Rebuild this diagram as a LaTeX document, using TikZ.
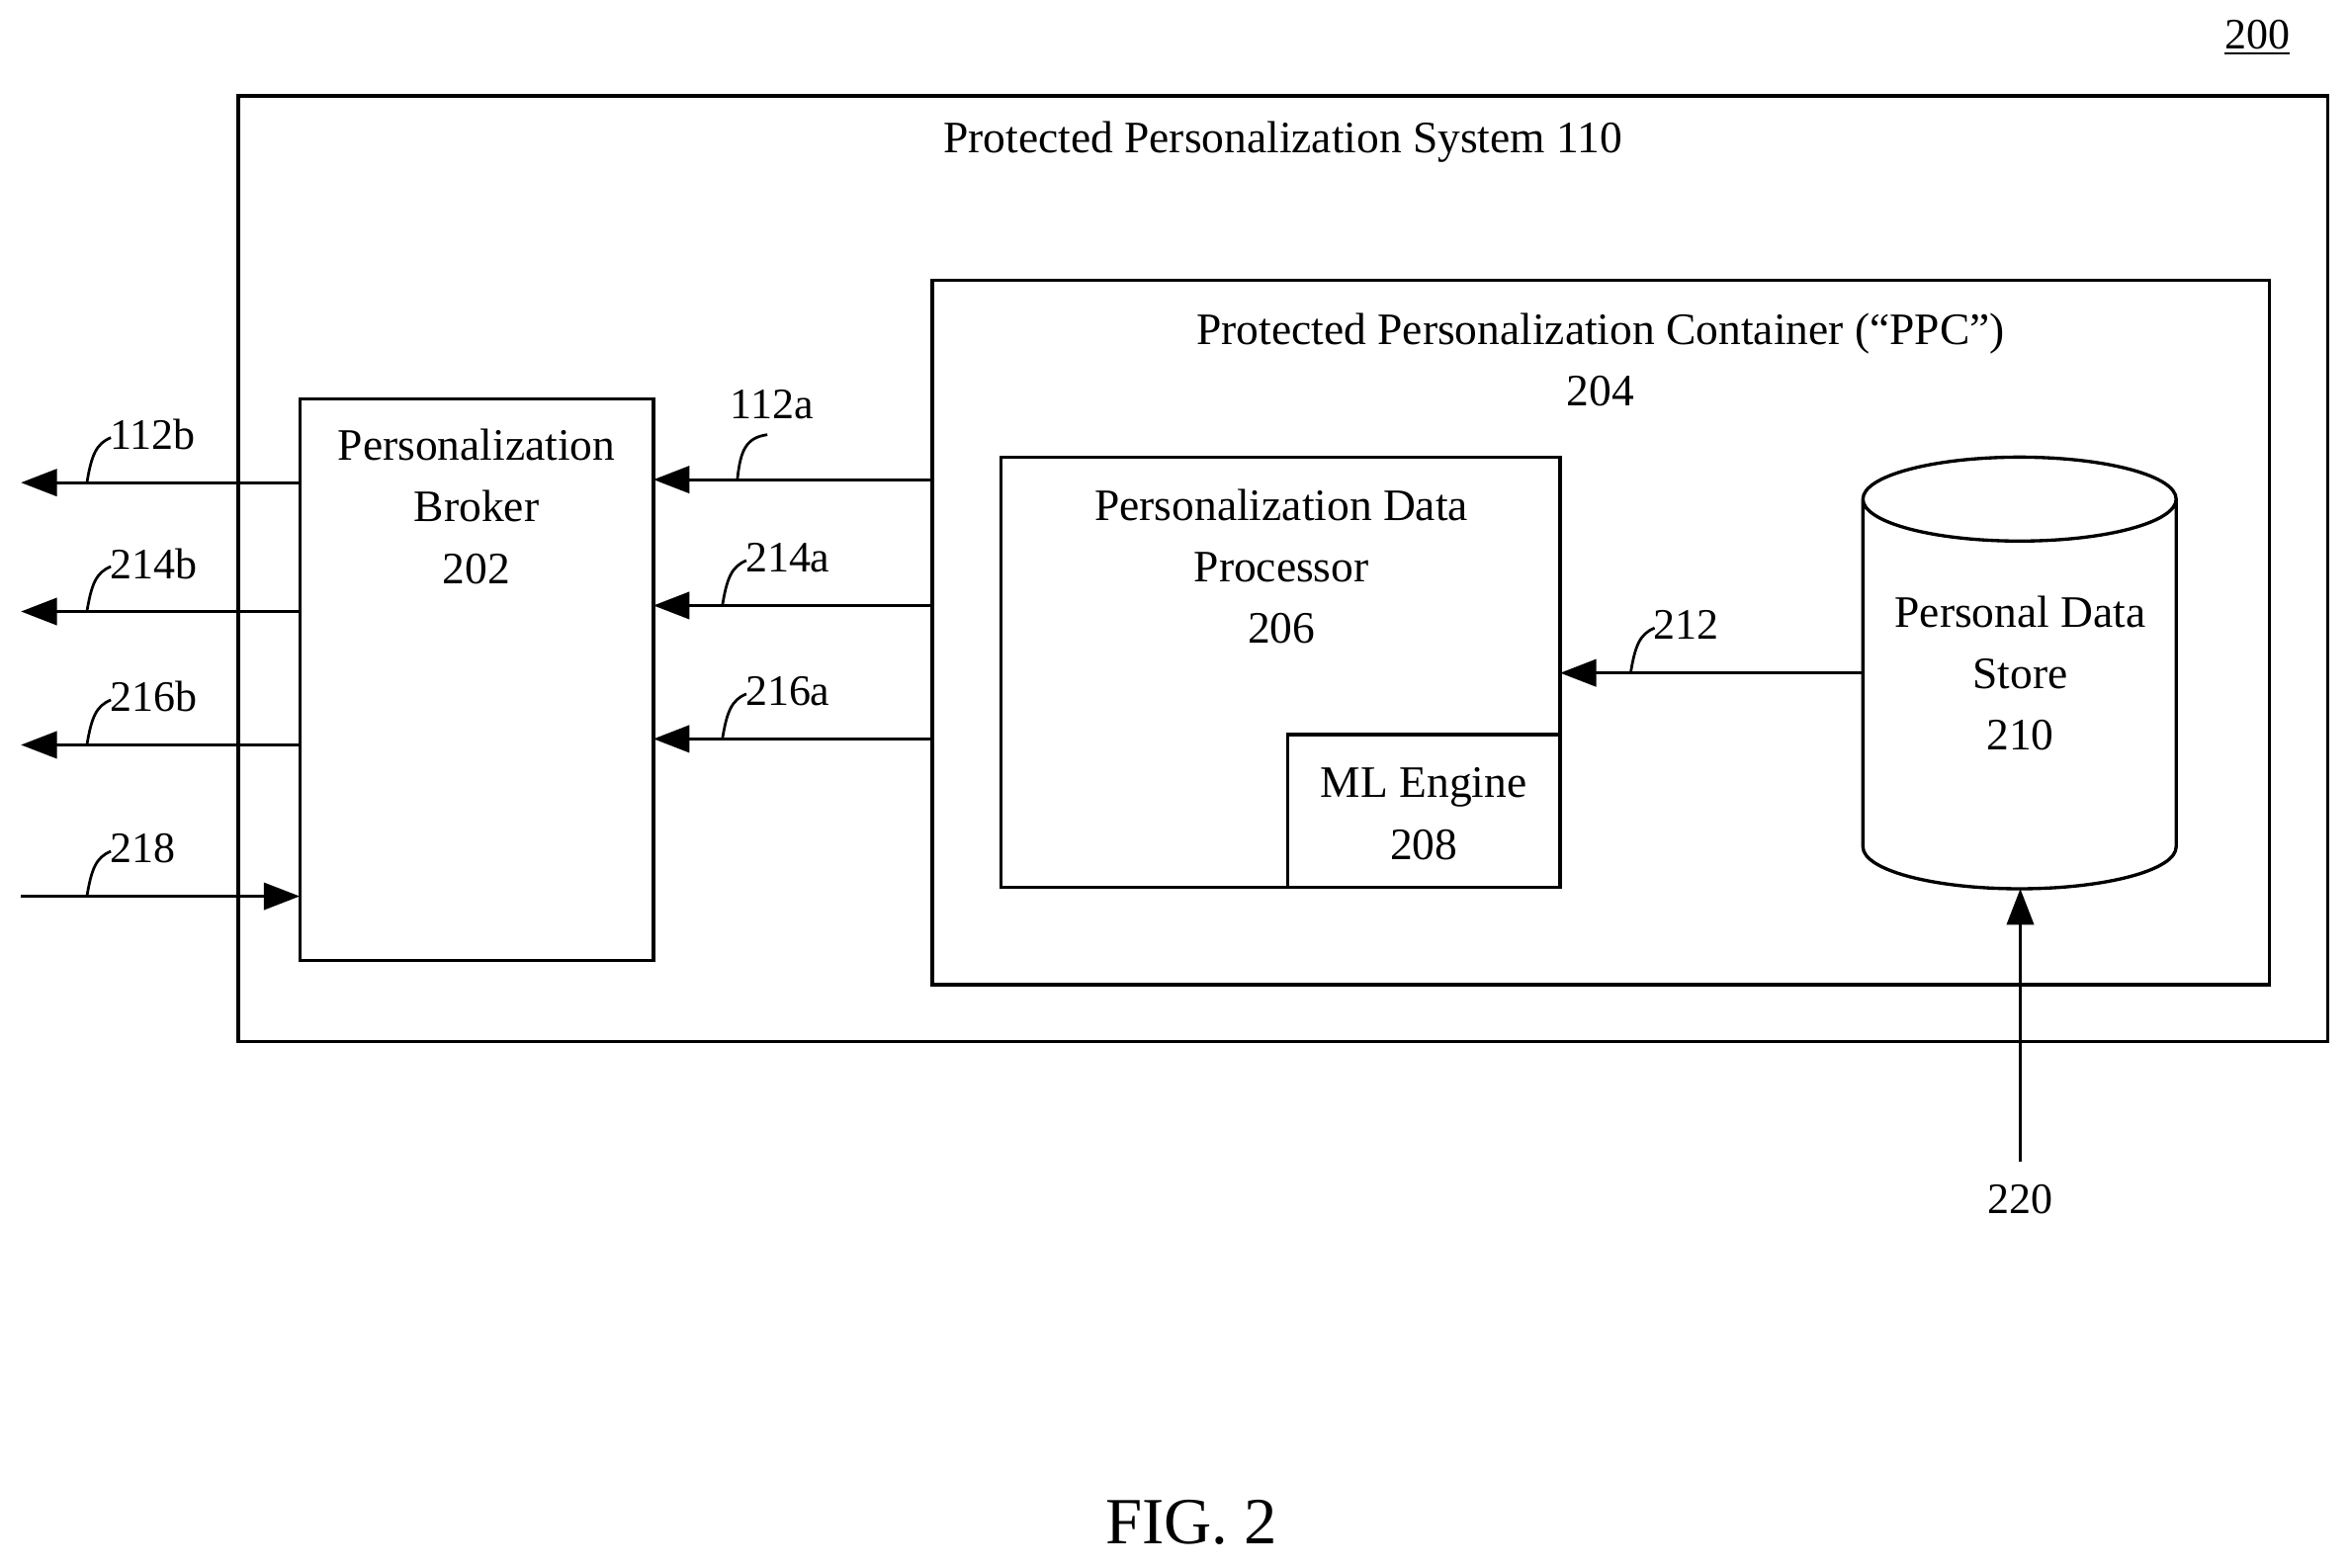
\documentclass[tikz,border=0pt]{standalone}
\usepackage{fontspec}
\setmainfont{Liberation Serif}
\usetikzlibrary{arrows.meta}
\begin{document}
\begin{tikzpicture}[x=0.5pt,y=-0.5pt,
  box/.style={draw,line width=1.1pt},
  txt/.style={font=\fontsize{15}{20.5}\selectfont,align=center,inner sep=0pt},
  lbl/.style={font=\fontsize{14.5}{16}\selectfont,inner sep=0pt},
  arr/.style={line width=1pt,-{Triangle[length=12pt,width=9pt]}},
  lead/.style={line width=0.9pt}]
\useasboundingbox (0,0) rectangle (1568,1046);
\node[lbl] (n200) at (1506,25) {\underline{200}};
\draw[box] (159,64) rectangle (1553,695);
\node[txt] (sys) at (856,95) {Protected Personalization System 110};
\draw[box] (622,187) rectangle (1514,657);
\node[txt] (ppc) at (1068,240) {Protected Personalization Container (``PPC'')\\204};
\node[box,minimum width=236pt*0.5,minimum height=375pt*0.5,inner sep=0pt] (broker) at (318,453.5) {};
\node[txt] at (318,338) {Personalization\\Broker\\202};
\draw[box] (668,305) rectangle (1041,592);
\node[txt] (pdp) at (855,378) {Personalization Data\\Processor\\206};
\draw[box] (859,490) rectangle (1041,592);
\node[txt] (ml) at (950,543) {ML Engine\\208};
% cylinder
\draw[box,fill=white] (1243,333) -- (1243,565) arc[start angle=180,end angle=0,x radius=104.5,y radius=28] -- (1452,333) arc[start angle=0,end angle=360,x radius=104.5,y radius=28];
\node[txt] (pds) at (1348,449) {Personal Data\\Store\\210};
% arrows
\coordinate (p1) at (622,320); \coordinate (b1) at (436,320);
\coordinate (p2) at (622,404); \coordinate (b2) at (436,404);
\coordinate (p3) at (622,493); \coordinate (b3) at (436,493);
\draw[arr] (p1) -- (b1); \draw[arr] (p2) -- (b2); \draw[arr] (p3) -- (b3);
\coordinate (s1) at (1243,449); \coordinate (d1) at (1041,449);
\draw[arr] (s1) -- (d1);
\coordinate (l1) at (200,322); \coordinate (o1) at (14,322);
\coordinate (l2) at (200,408); \coordinate (o2) at (14,408);
\coordinate (l3) at (200,497); \coordinate (o3) at (14,497);
\draw[arr] (l1) -- (o1); \draw[arr] (l2) -- (o2); \draw[arr] (l3) -- (o3);
\coordinate (i4) at (14,598); \coordinate (l4) at (200,598);
\draw[arr] (i4) -- (l4);
\coordinate (c220) at (1348,775); \coordinate (cyl) at (1348,593);
\draw[arr] (c220) -- (cyl);
\node[lbl] (n220) at (1348,800) {220};
% leaders + labels
\draw[lead] (492,320) .. controls (494,300) and (498,292) .. (512,290);
\node[lbl,anchor=west] at (487,270) {112a};
\foreach \x/\y/\t in {482/404/214a,482/493/216a,1088/449/212,58/322/112b,58/408/214b,58/497/216b,58/598/218}{
  \draw[lead] (\x,\y) .. controls (\x+3,\y-18) and (\x+6,\y-26) .. (\x+16,\y-30);
  \node[lbl,anchor=west] at (\x+15,\y-32) {\t};
}
\node[font=\fontsize{22}{24}\selectfont] (fig) at (795,1016) {FIG. 2};
\end{tikzpicture}
\end{document}
